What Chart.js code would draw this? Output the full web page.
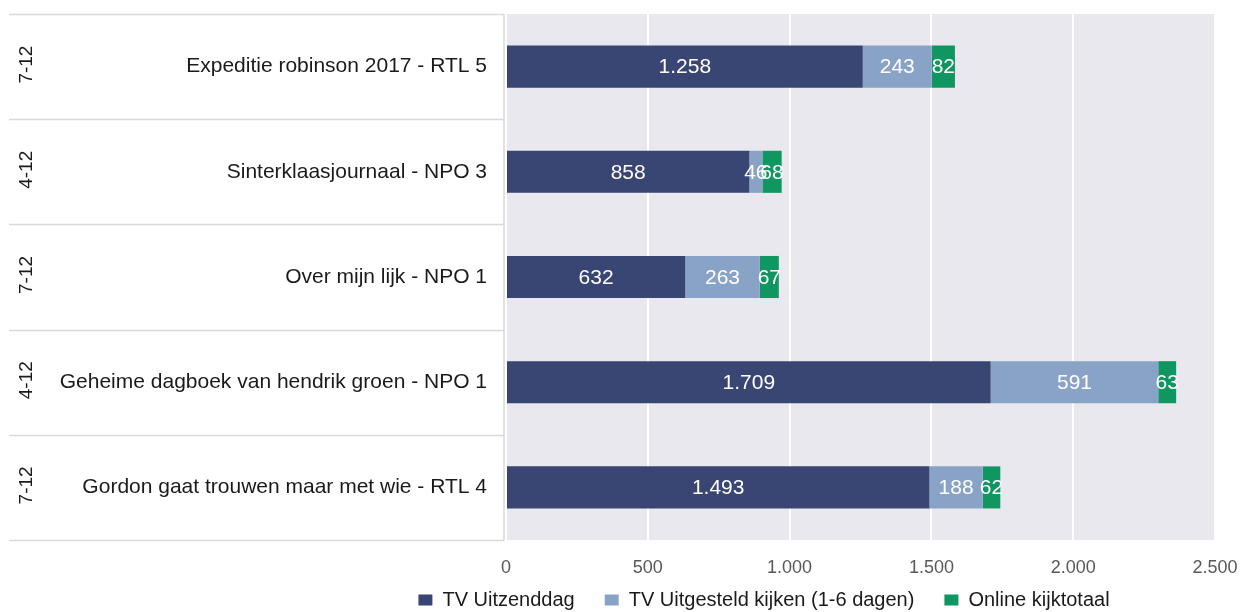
<!DOCTYPE html>
<html><head><meta charset="utf-8">
<script src="https://cdn.jsdelivr.net/npm/chart.js@4/dist/chart.umd.min.js"></script>
<style>html,body{margin:0;padding:0;background:#fff;} #wrap{width:1243px;height:612px;position:relative;}</style>
</head><body><div id="wrap"><canvas id="c" width="1243" height="612"></canvas></div>
<script>
const categories = [
  'Expeditie robinson 2017 - RTL 5',
  'Sinterklaasjournaal - NPO 3',
  'Over mijn lijk - NPO 1',
  'Geheime dagboek van hendrik groen - NPO 1',
  'Gordon gaat trouwen maar met wie - RTL 4'
];
const dates = ['7-12', '4-12', '7-12', '4-12', '7-12'];
const seriesNames = ['TV Uitzenddag', 'TV Uitgesteld kijken (1-6 dagen)', 'Online kijktotaal'];
const tvUitzenddag = [1258, 858, 632, 1709, 1493];
const tvUitgesteld = [243, 46, 263, 591, 188];
const onlineKijktotaal = [82, 68, 67, 63, 62];
const xTicks = [0, 500, 1000, 1500, 2000, 2500];

const fmt = n => String(n).replace(/\B(?=(\d{3})+(?!\d))/g, '.');
const SANS = "'Liberation Sans', Arial, sans-serif";

const PLOT_BOTTOM = 540;
const LEGEND_FONT = 20;
const LEGEND_PAD = 30;
const LEGEND_H = 30;

const bgPlugin = {
  id: 'bg',
  beforeDraw(chart) {
    const {ctx, chartArea: a} = chart;
    ctx.save();
    ctx.fillStyle = '#E9E8EE';
    ctx.fillRect(a.left, a.top, a.right - a.left, a.bottom - a.top);
    ctx.strokeStyle = '#D9D9D9';
    ctx.lineWidth = 1.5;
    const n = categories.length;
    const band = (a.bottom - a.top) / n;
    for (let i = 0; i <= n; i++) {
      const yy = Math.round(a.top + i * band) + 0.5;
      ctx.beginPath();
      ctx.moveTo(9, yy);
      ctx.lineTo(a.left - 2, yy);
      ctx.stroke();
    }
    ctx.beginPath();
    ctx.moveTo(a.left - 2, a.top);
    ctx.lineTo(a.left - 2, a.bottom);
    ctx.stroke();
    ctx.restore();
  },
  afterDraw(chart) {
    const {ctx, scales: {y}} = chart;
    ctx.save();
    ctx.fillStyle = '#1a1a1a';
    ctx.font = "19px " + SANS;
    ctx.textAlign = 'center';
    ctx.textBaseline = 'middle';
    dates.forEach((d, i) => {
      const yy = y.getPixelForValue(i) - 2;
      ctx.save();
      ctx.translate(27, yy);
      ctx.rotate(-Math.PI / 2);
      ctx.fillText(d, 0, 0);
      ctx.restore();
    });
    ctx.restore();
  }
};

const labelPlugin = {
  id: 'vals',
  afterDatasetsDraw(chart) {
    const {ctx} = chart;
    ctx.save();
    ctx.fillStyle = '#ffffff';
    ctx.font = "21px " + SANS;
    ctx.textAlign = 'center';
    ctx.textBaseline = 'middle';
    chart.data.datasets.forEach((ds, di) => {
      const meta = chart.getDatasetMeta(di);
      meta.data.forEach((el, i) => {
        const cx = (el.x + el.base) / 2;
        ctx.fillText(fmt(ds.data[i]), cx, el.y + 1);
      });
    });
    ctx.restore();
  }
};

const legendShift = {
  id: 'legendShift',
  beforeLayout(chart) {
    const l = chart.legend;
    if (l && !l._fitWrapped) {
      const origFit = l.fit.bind(l);
      l.fit = function () { origFit(); this.height = LEGEND_H; };
      l._fitWrapped = true;
    }
  },
  afterLayout(chart) {
    const l = chart.legend;
    if (!l) return;
    const shift = 764 - (l.left + l.right) / 2;
    l.left += shift; l.right += shift;
    l.top = 600 - LEGEND_PAD - LEGEND_FONT / 2;
    l.bottom = l.top + LEGEND_PAD * 2 + LEGEND_FONT;
  }
};

new Chart(document.getElementById('c'), {
  type: 'bar',
  data: {
    labels: categories,
    datasets: [
      {label: seriesNames[0], data: tvUitzenddag, backgroundColor: '#394573', borderWidth: 0},
      {label: seriesNames[1], data: tvUitgesteld, backgroundColor: '#89A3C7', borderWidth: 0},
      {label: seriesNames[2], data: onlineKijktotaal, backgroundColor: '#109660', borderWidth: 0}
    ]
  },
  options: {
    indexAxis: 'y',
    responsive: false,
    animation: false,
    devicePixelRatio: 1,
    barPercentage: 0.4,
    categoryPercentage: 1.0,
    layout: {padding: {top: 14, right: 28, left: 0, bottom: 0}},
    scales: {
      x: {
        stacked: true,
        min: 0, max: 2500,
        afterBuildTicks(scale) { scale.ticks = xTicks.map(v => ({value: v})); },
        ticks: {
          callback: v => fmt(v),
          color: '#595959',
          font: {family: SANS, size: 18},
          padding: 17,
          maxRotation: 0,
          autoSkip: false
        },
        grid: {color: '#ffffff', lineWidth: 2, drawTicks: false},
        border: {display: false},
        afterFit(scale) {
          scale.height = 612 - PLOT_BOTTOM - LEGEND_H;
          scale.paddingLeft = 0; scale.paddingRight = 0;
        }
      },
      y: {
        stacked: true,
        grid: {display: false, drawTicks: false},
        border: {display: false},
        ticks: {
          color: '#1a1a1a',
          font: {family: SANS, size: 21},
          padding: 19
        },
        afterFit(scale) {
          scale.width = 506;
          scale.paddingTop = 0; scale.paddingBottom = 0;
        }
      }
    },
    plugins: {
      legend: {
        position: 'bottom',
        labels: {
          boxWidth: 14, boxHeight: 11,
          color: '#1a1a1a',
          font: {family: SANS, size: LEGEND_FONT},
          padding: LEGEND_PAD
        }
      },
      tooltip: {enabled: false}
    }
  },
  plugins: [bgPlugin, labelPlugin, legendShift]
});
</script>
</body></html>
